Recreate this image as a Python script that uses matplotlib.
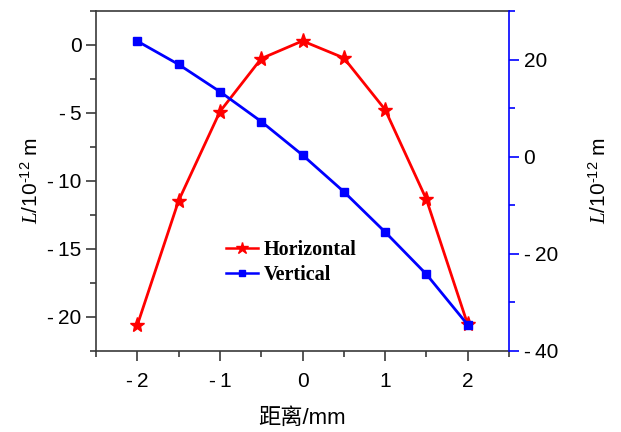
import numpy as np
import matplotlib.pyplot as plt
from matplotlib.ticker import MultipleLocator

plt.rcParams['font.family'] = ['Liberation Sans', 'Noto Sans CJK SC']
plt.rcParams['mathtext.fontset'] = 'custom'
plt.rcParams['mathtext.it'] = 'Liberation Serif:italic'
plt.rcParams['mathtext.rm'] = 'Liberation Sans'

# positions along the sample, mm
dist = [-2, -1.5, -1, -0.5, 0, 0.5, 1, 1.5, 2]
# horizontal deflection (left axis) and vertical deflection (right axis), 1e-12 m
horiz = [-20.6, -11.45, -4.9, -1.0, 0.3, -0.95, -4.75, -11.35, -20.55]
vert = [23.8, 19.0, 13.4, 7.25, 0.35, -7.2, -15.5, -24.2, -34.6]

fig = plt.figure(figsize=(6.21, 4.32), dpi=100)
ax = fig.add_axes([96/621, 81/432, 413/621, 340/432])
ax2 = ax.twinx()

l1, = ax.plot(dist, horiz, color='red', lw=2, marker='*', ms=11,
              label='Horizontal')
l2, = ax2.plot(dist, vert, color='blue', lw=2, marker='s', ms=6,
               label='Vertical')

ax.set_xlim(-2.5, 2.5)
ax.set_ylim(-22.5, 2.5)
ax2.set_ylim(-40, 30)

ax.xaxis.set_major_locator(MultipleLocator(1))
ax.xaxis.set_minor_locator(MultipleLocator(0.5))
ax.yaxis.set_major_locator(MultipleLocator(5))
ax.yaxis.set_minor_locator(MultipleLocator(2.5))
ax2.yaxis.set_major_locator(MultipleLocator(20))
ax2.yaxis.set_minor_locator(MultipleLocator(10))

spine_c = '#3a3a3a'
for s in ['left', 'bottom', 'top']:
    ax.spines[s].set_color(spine_c)
    ax.spines[s].set_linewidth(1.2)
for s in ['left', 'bottom', 'top']:
    ax2.spines[s].set_visible(False)
ax.spines['right'].set_visible(False)
ax2.spines['right'].set_color('blue')
ax2.spines['right'].set_linewidth(1.2)

ax.tick_params(which='both', direction='out', colors=spine_c, labelcolor='black',
               labelsize=15, width=1.2)
ax.tick_params(which='major', length=7)
ax.tick_params(which='minor', length=4)
ax.tick_params(axis='x', pad=8)
ax2.tick_params(which='both', direction='out', colors='blue', labelcolor='black',
                labelsize=15, width=1.2)
ax2.tick_params(which='major', length=7)
ax2.tick_params(which='minor', length=4)

fmt = lambda v, p: ('%g' % v).replace('-', '-\u2009') if v < 0 else '%g' % v
ax.xaxis.set_major_formatter(plt.FuncFormatter(fmt))
ax.yaxis.set_major_formatter(plt.FuncFormatter(fmt))
ax2.yaxis.set_major_formatter(plt.FuncFormatter(fmt))

ylab = r'$\mathit{L}$/10$^{\text{-12}}$ m'
ax.set_xlabel('距离/mm', fontsize=16, labelpad=12)
ax.set_ylabel(ylab, fontsize=15, labelpad=4)
ax2.set_ylabel(ylab, fontsize=15, labelpad=22)

leg = ax2.legend([l1, l2], ['Horizontal', 'Vertical'], loc='upper left',
                 bbox_to_anchor=(0.27, 0.38), frameon=False, handlelength=1.6,
                 handletextpad=0.3, labelspacing=0.25,
                 prop={'family': 'Liberation Serif', 'weight': 'bold', 'size': 14.5})
for h in leg.legend_handles:
    h.set_markersize(h.get_markersize() * 0.8)
    h.set_linewidth(1.8)

fig.savefig('out.png', dpi=100)
